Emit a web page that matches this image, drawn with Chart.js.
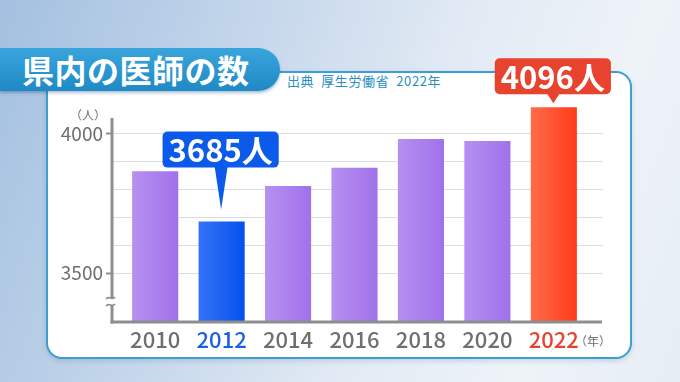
<!DOCTYPE html>
<html lang="ja">
<head>
<meta charset="UTF-8">
<title>県内の医師の数</title>
<script src="https://cdn.jsdelivr.net/npm/chart.js"></script>
<style>
    * { margin: 0; padding: 0; box-sizing: border-box; }

    body {
        width: 680px;
        height: 382px;
        overflow: hidden;
        position: relative;
        font-family: "Noto Sans CJK JP", "Noto Sans", sans-serif;
        background: linear-gradient(110deg, #a3c0e0 0%, #c2d5ea 30%, #e2eaf4 58%, #eef3f8 80%, #e6edf5 100%);
    }

    .panel {
        position: absolute;
        left: 46px;
        top: 71px;
        width: 586px;
        height: 288px;
        background: #ffffff;
        border: 2px solid #3b9fcf;
        border-radius: 16px;
        box-shadow: 0 2px 5px rgba(50, 90, 140, 0.2);
    }

    .banner {
        position: absolute;
        left: 0;
        top: 48px;
        width: 280px;
        height: 43px;
        border-radius: 0 22px 22px 0;
        background: linear-gradient(#3aa5dc, #1f89c5);
        box-shadow: 0 2px 3px rgba(20, 70, 120, 0.35);
        color: #ffffff;
        font-weight: bold;
        font-size: 32px;
        line-height: 43px;
        padding-left: 22px;
        letter-spacing: 0.5px;
        z-index: 2;
    }

    .source {
        position: absolute;
        left: 287px;
        top: 72px;
        font-size: 13px;
        line-height: 18px;
        letter-spacing: 0.6px;
        color: #2b8dc4;
        white-space: pre;
    }

    #chart {
        position: absolute;
        left: 0;
        top: 0;
        z-index: 3;
    }
</style>
</head>
<body>
    <div class="panel"></div>
    <div class="banner">県内の医師の数</div>
    <div class="source">出典  厚生労働省  2022年</div>
    <canvas id="chart" width="680" height="382"></canvas>

<script>
    // data
    const years = ["2010", "2012", "2014", "2016", "2018", "2020", "2022"];
    const doctors = [3866, 3685, 3813, 3879, 3982, 3975, 4096];
    const gridValues = [3500, 3600, 3700, 3800, 3900, 4000];
    const labelledValues = [3500, 4000];
    const yUnit = "（人）";
    const xUnit = "（年）";

    const GREY = "#6f6f6f";
    const BLUE = "#1a5fe8";
    const RED = "#e8412e";

    // bars: [left colour, right colour]
    function barFill(i) {
        if (years[i] === "2012") return ["#3573f6", "#0650ee"];
        if (years[i] === "2022") return ["#ff6c4a", "#ff3a1a"];
        return ["#b690f1", "#a071ea"];
    }

    function tickColor(v) {
        if (v === 2012) return BLUE;
        if (v === 2022) return RED;
        return GREY;
    }

    const callouts = [
        { index: 1, color: "#0b5ae9", tipGap: 12, stem: 42 },
        { index: 6, color: "#e8432e", tipGap: 4, stem: 9 }
    ];

    const decorPlugin = {
        id: "decor",
        afterDatasetsDraw(chart) {
            const { ctx, chartArea: a } = chart;
            ctx.save();
            ctx.strokeStyle = "#8e8e8e";
            ctx.lineWidth = 3;
            ctx.lineCap = "butt";

            // y axis
            ctx.beginPath();
            ctx.moveTo(a.left, 118);
            ctx.lineTo(a.left, a.bottom + 1.5);
            ctx.stroke();

            // x axis
            ctx.beginPath();
            ctx.moveTo(a.left - 1.5, a.bottom);
            ctx.lineTo(a.right - 1, a.bottom);
            ctx.stroke();

            // axis break
            ctx.fillStyle = "#ffffff";
            ctx.fillRect(a.left - 3, 298, 7, 7);
            ctx.lineWidth = 1.6;
            [298, 305].forEach(yy => {
                ctx.beginPath();
                ctx.moveTo(a.left - 6, yy + 1);
                ctx.bezierCurveTo(a.left - 3, yy - 3, a.left, yy + 3, a.left + 3, yy - 1);
                ctx.stroke();
            });

            // unit labels
            ctx.fillStyle = GREY;
            ctx.font = '12px "Noto Sans CJK JP"';
            ctx.textBaseline = "middle";
            ctx.textAlign = "right";
            ctx.fillText(yUnit, 106, 115);
            ctx.textAlign = "left";
            ctx.fillText(xUnit, 575, 341);
            ctx.restore();
        },
        afterDraw(chart) {
            const { ctx } = chart;
            const meta = chart.getDatasetMeta(0);
            ctx.save();
            callouts.forEach(c => {
                const bar = meta.data[c.index];
                const tipY = bar.y - c.tipGap;
                const boxBottom = tipY - c.stem;
                const text = doctors[c.index] + "人";
                ctx.font = 'bold 31px "Noto Sans CJK JP"';
                const w = ctx.measureText(text).width + 12;
                const h = 36;
                ctx.fillStyle = c.color;
                ctx.beginPath();
                ctx.roundRect(bar.x - w / 2 - 1, boxBottom - h, w, h, 5);
                ctx.fill();
                ctx.beginPath();
                ctx.moveTo(bar.x - 7, boxBottom - 1);
                ctx.lineTo(bar.x + 6, boxBottom - 1);
                ctx.lineTo(bar.x - 0.5, tipY);
                ctx.closePath();
                ctx.fill();
                ctx.fillStyle = "#ffffff";
                ctx.textAlign = "center";
                ctx.textBaseline = "middle";
                ctx.fillText(text, bar.x - 1, boxBottom - h / 2 + 1);
            });
            ctx.restore();
        }
    };

    const ctx = document.getElementById("chart").getContext("2d");
    const chart = new Chart(ctx, {
        type: "bar",
        data: {
            datasets: [{
                data: years.map((yr, i) => ({ x: Number(yr), y: doctors[i] })),
                backgroundColor: (c) => {
                    const cols = barFill(c.dataIndex || 0);
                    const xs = c.chart.scales.x;
                    if (c.dataIndex === undefined || !xs) return cols[0];
                    const cx = xs.getPixelForValue(Number(years[c.dataIndex]));
                    if (!isFinite(cx)) return cols[0];
                    const g = c.chart.ctx.createLinearGradient(cx - 23, 0, cx + 23, 0);
                    g.addColorStop(0, cols[0]);
                    g.addColorStop(1, cols[1]);
                    return g;
                },
                borderWidth: 0,
                barPercentage: 0.694,
                categoryPercentage: 1
            }]
        },
        options: {
            responsive: false,
            animation: false,
            devicePixelRatio: 1,
            layout: { padding: { top: 92, right: 77, left: 0, bottom: 0 } },
            plugins: {
                legend: { display: false },
                tooltip: { enabled: false }
            },
            scales: {
                x: {
                    type: "linear",
                    offset: false,
                    min: 2008.7,
                    max: 2023.48,
                    afterBuildTicks: (s) => { s.ticks = years.map(v => ({ value: Number(v) })); },
                    afterFit: (s) => { s.height = 60; },
                    grid: { display: false, drawTicks: false },
                    border: { display: false },
                    ticks: {
                        padding: 4,
                        callback: (v) => String(v),
                        color: (c) => tickColor(c.tick && c.tick.value),
                        font: { family: "Noto Sans CJK JP", size: 22, weight: "500" }
                    }
                },
                y: {
                    min: 3324,
                    max: 4151,
                    afterBuildTicks: (s) => { s.ticks = gridValues.map(v => ({ value: v })); },
                    afterFit: (s) => { s.width = 112; },
                    border: { display: false },
                    grid: {
                        color: "#dddddd",
                        lineWidth: 1,
                        drawTicks: true,
                        tickLength: 6,
                        tickWidth: 2,
                        tickColor: (c) => labelledValues.includes(c.tick && c.tick.value) ? "#8e8e8e" : "rgba(0,0,0,0)"
                    },
                    ticks: {
                        padding: 3,
                        callback: (v) => labelledValues.includes(v) ? String(v) : "",
                        color: GREY,
                        font: { family: "Noto Sans CJK JP", size: 19 }
                    }
                }
            }
        },
        plugins: [decorPlugin]
    });
</script>
</body>
</html>
